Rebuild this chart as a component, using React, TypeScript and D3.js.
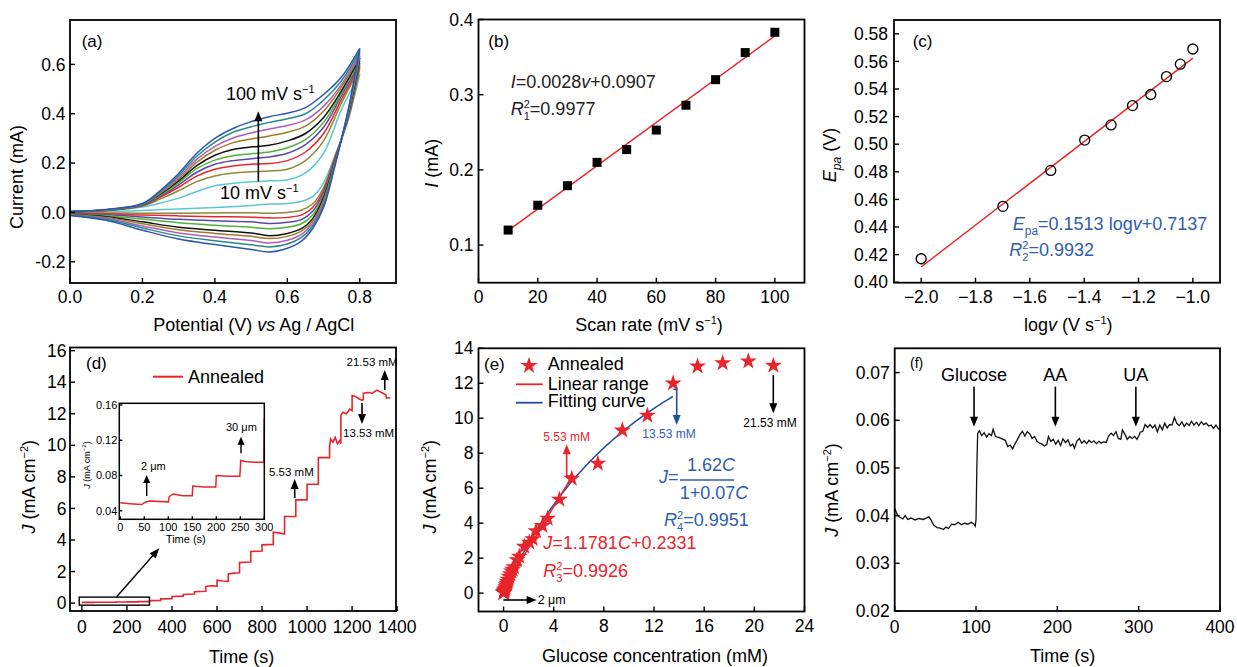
import React from "react";
import * as d3 from "d3";

const FONT = "'Liberation Sans', Arial, Helvetica, sans-serif";
const RED = "#e8252b";
const BLUE_TXT = "#2f5db0";
const BLUE_LINE = "#1f4ea3";
const FS = 17.5;
const TFS = 18;

// ---------- Panel (a): CV curves ----------
const cvRates = [10, 20, 30, 40, 50, 60, 70, 80, 90, 100];
const cvColors = ["#5cc6d6", "#8a8a3a", "#e8262a", "#5a4aa8", "#4fb13a", "#111111", "#a07a28", "#b25cb8", "#268a8a", "#2a56b0"];
const cvAnodicE = [0, 0.1, 0.2, 0.25, 0.3, 0.35, 0.4, 0.45, 0.5, 0.55, 0.6, 0.65, 0.7, 0.75, 0.8];
const cvAnodic = [
  [0.003, 0.007, 0.022, 0.038, 0.058, 0.085, 0.108, 0.118, 0.124, 0.128, 0.132, 0.16, 0.24, 0.42, 0.56],
  [0.003, 0.008, 0.026, 0.055, 0.088, 0.125, 0.148, 0.16, 0.165, 0.168, 0.175, 0.21, 0.29, 0.445, 0.585],
  [0.003, 0.008, 0.028, 0.062, 0.102, 0.147, 0.175, 0.188, 0.195, 0.198, 0.21, 0.245, 0.32, 0.46, 0.595],
  [0.003, 0.009, 0.029, 0.067, 0.112, 0.163, 0.195, 0.21, 0.218, 0.225, 0.24, 0.275, 0.345, 0.475, 0.605],
  [0.003, 0.009, 0.03, 0.071, 0.12, 0.178, 0.212, 0.23, 0.238, 0.245, 0.262, 0.295, 0.365, 0.485, 0.615],
  [0.003, 0.01, 0.031, 0.075, 0.128, 0.19, 0.232, 0.255, 0.265, 0.272, 0.29, 0.32, 0.385, 0.495, 0.625],
  [0.004, 0.01, 0.032, 0.078, 0.135, 0.203, 0.252, 0.283, 0.298, 0.31, 0.325, 0.35, 0.41, 0.51, 0.635],
  [0.004, 0.011, 0.033, 0.082, 0.142, 0.215, 0.268, 0.302, 0.322, 0.338, 0.352, 0.375, 0.43, 0.52, 0.645],
  [0.004, 0.011, 0.034, 0.085, 0.15, 0.228, 0.285, 0.325, 0.347, 0.365, 0.38, 0.4, 0.455, 0.535, 0.655],
  [0.004, 0.012, 0.036, 0.09, 0.158, 0.24, 0.3, 0.34, 0.368, 0.388, 0.402, 0.425, 0.478, 0.55, 0.665],
];
const cvCathodicE = [0.8, 0.77, 0.75, 0.73, 0.7, 0.67, 0.64, 0.6, 0.55, 0.5, 0.4, 0.3, 0.2, 0.1, 0];
const cvCathodic = [
  [0.56, 0.385, 0.3, 0.225, 0.12, 0.065, 0.045, 0.036, 0.034, 0.028, 0.02, 0.014, 0.008, 0.003, -0.003],
  [0.585, 0.39, 0.3, 0.22, 0.1, 0.035, 0.01, 0.0, -0.003, -0.001, -0.002, -0.003, -0.003, -0.002, -0.004],
  [0.595, 0.395, 0.3, 0.215, 0.09, 0.02, -0.01, -0.02, -0.022, -0.019, -0.017, -0.014, -0.01, -0.005, -0.005],
  [0.605, 0.4, 0.3, 0.21, 0.08, 0.005, -0.028, -0.04, -0.045, -0.038, -0.034, -0.028, -0.018, -0.009, -0.006],
  [0.615, 0.405, 0.3, 0.205, 0.07, -0.01, -0.045, -0.06, -0.066, -0.06, -0.052, -0.042, -0.027, -0.013, -0.007],
  [0.625, 0.41, 0.3, 0.2, 0.06, -0.025, -0.065, -0.085, -0.094, -0.083, -0.072, -0.06, -0.038, -0.017, -0.008],
  [0.635, 0.415, 0.3, 0.195, 0.05, -0.035, -0.075, -0.097, -0.106, -0.097, -0.085, -0.07, -0.046, -0.02, -0.009],
  [0.645, 0.42, 0.3, 0.19, 0.04, -0.045, -0.088, -0.113, -0.124, -0.114, -0.1, -0.083, -0.055, -0.024, -0.01],
  [0.655, 0.425, 0.3, 0.185, 0.03, -0.055, -0.1, -0.128, -0.14, -0.131, -0.115, -0.095, -0.063, -0.028, -0.011],
  [0.665, 0.43, 0.3, 0.18, 0.02, -0.065, -0.115, -0.145, -0.16, -0.15, -0.13, -0.108, -0.072, -0.032, -0.012],
];
const aXTicks = [0, 0.2, 0.4, 0.6, 0.8];
const aYTicks = [-0.2, 0, 0.2, 0.4, 0.6];

// ---------- Panel (b) ----------
const bScan = [10, 20, 30, 40, 50, 60, 70, 80, 90, 100];
const bCurrent = [0.12, 0.153, 0.179, 0.21, 0.227, 0.253, 0.286, 0.32, 0.356, 0.383];
const bXTicks = [0, 20, 40, 60, 80, 100];
const bYTicks = [0.1, 0.2, 0.3, 0.4];

// ---------- Panel (c) ----------
const cLogV = [-2.0, -1.699, -1.523, -1.398, -1.301, -1.222, -1.155, -1.097, -1.046, -1.0];
const cEpa = [0.417, 0.455, 0.481, 0.503, 0.514, 0.528, 0.536, 0.549, 0.558, 0.569];
const cSlope = 0.1513;
const cIntercept = 0.7137;
const cXTicks = [-2.0, -1.8, -1.6, -1.4, -1.2, -1.0];
const cYTicks = [0.4, 0.42, 0.44, 0.46, 0.48, 0.5, 0.52, 0.54, 0.56, 0.58];

// ---------- Panel (d) ----------
const dTime = [0, 50, 50, 100, 100, 150, 150, 200, 200, 250, 250, 300, 300, 350, 350, 400, 400, 450, 450, 500, 500, 550, 550, 575, 600, 600, 625, 650, 650, 675, 700, 700, 750, 750, 800, 800, 850, 850, 875, 900, 900, 950, 950, 1000, 1000, 1050, 1050, 1100, 1100, 1105, 1115, 1125, 1135, 1145, 1150, 1150, 1160, 1175, 1190, 1200, 1200, 1215, 1230, 1245, 1250, 1250, 1270, 1290, 1310, 1330, 1350, 1352, 1370];
const dJ = [0.049, 0.048, 0.051, 0.051, 0.058, 0.057, 0.067, 0.067, 0.079, 0.079, 0.095, 0.094, 0.16, 0.17, 0.27, 0.28, 0.42, 0.44, 0.55, 0.58, 0.72, 0.75, 1.05, 1.1, 1.08, 1.45, 1.4, 1.38, 1.85, 1.9, 1.92, 2.57, 2.6, 3.27, 3.3, 3.69, 3.72, 4.49, 4.45, 4.38, 5.49, 5.49, 6.54, 6.54, 7.53, 7.53, 9.22, 9.22, 10.0, 10.4, 10.2, 10.5, 10.1, 10.3, 10.1, 11.9, 12.1, 12.0, 12.3, 12.2, 13.15, 13.1, 12.95, 12.85, 12.9, 13.3, 13.35, 13.3, 13.5, 13.35, 13.2, 13.0, 13.0];
const dXTicks = [0, 200, 400, 600, 800, 1000, 1200, 1400];
const dYTicks = [0, 2, 4, 6, 8, 10, 12, 14, 16];
const insetTime = [0, 20, 45, 50, 60, 100, 102, 110, 130, 150, 151, 175, 199, 200, 225, 249, 251, 260, 280, 299, 300];
const insetJ = [0.049, 0.048, 0.047, 0.049, 0.051, 0.05, 0.056, 0.059, 0.057, 0.057, 0.068, 0.067, 0.067, 0.08, 0.079, 0.079, 0.097, 0.096, 0.095, 0.095, 0.145];
const insetXTicks = [0, 50, 100, 150, 200, 250, 300];
const insetYTicks = [0.04, 0.08, 0.12, 0.16];

// ---------- Panel (e) ----------
const eConc = [0.002, 0.004, 0.006, 0.008, 0.01, 0.04, 0.07, 0.1, 0.13, 0.16, 0.2, 0.25, 0.3, 0.35, 0.43, 0.53, 0.63, 0.73, 0.83, 1.07, 1.25, 1.65, 2.05, 2.32, 2.59, 3.1, 3.52, 4.45, 5.44, 7.52, 9.47, 11.47, 13.52, 15.47, 17.47, 19.52, 21.52];
const eJ = [0.02, 0.03, 0.04, 0.05, 0.06, 0.1, 0.15, 0.2, 0.27, 0.35, 0.45, 0.55, 0.65, 0.78, 0.95, 1.1, 1.25, 1.35, 1.5, 1.9, 2.1, 2.66, 2.9, 3.1, 3.55, 3.85, 4.27, 5.36, 6.55, 7.41, 9.31, 10.16, 12.0, 12.97, 13.16, 13.26, 13.01];
const eLinSlope = 1.1781;
const eLinIntercept = 0.2331;
const eLinRange = [0, 5.53];
const eFitA = 1.62;
const eFitB = 0.07;
const eFitRange = [0, 13.53];
const eXTicks = [0, 4, 8, 12, 16, 20, 24];
const eYTicks = [0, 2, 4, 6, 8, 10, 12, 14];

// ---------- Panel (f) ----------
const fTime = [0, 3, 5, 10, 13, 16, 20, 25, 30, 35, 40, 42, 45, 48, 52, 56, 60, 63, 66, 70, 74, 78, 82, 86, 90, 94, 97, 99, 100, 101, 102, 104, 107, 110, 113, 116, 119, 121, 124, 128, 132, 136, 139, 142, 145, 148, 151, 154, 157, 160, 163, 166, 169, 172, 175, 178, 181, 184, 187, 189, 192, 195, 198, 201, 204, 207, 210, 213, 216, 219, 221, 224, 227, 230, 233, 236, 239, 242, 245, 248, 251, 254, 257, 260, 263, 266, 269, 272, 275, 278, 280, 283, 286, 289, 292, 295, 298, 300, 302, 305, 308, 311, 314, 317, 320, 323, 326, 329, 332, 335, 338, 341, 344, 347, 350, 353, 356, 359, 362, 365, 368, 371, 374, 377, 380, 383, 386, 389, 392, 395, 398, 400];
const fJ = [0.0415, 0.0403, 0.0398, 0.0393, 0.04, 0.0392, 0.0395, 0.0391, 0.0394, 0.0392, 0.0396, 0.0398, 0.039, 0.038, 0.0375, 0.0374, 0.0371, 0.0376, 0.0373, 0.0382, 0.0381, 0.0386, 0.0381, 0.0384, 0.0382, 0.0386, 0.0383, 0.0378, 0.0392, 0.05, 0.0572, 0.0578, 0.0568, 0.0574, 0.0565, 0.0572, 0.0568, 0.0581, 0.0566, 0.0564, 0.0561, 0.0558, 0.0545, 0.0548, 0.054, 0.0551, 0.056, 0.057, 0.0577, 0.0567, 0.0576, 0.0572, 0.0562, 0.0566, 0.0556, 0.0552, 0.055, 0.0546, 0.0549, 0.0566, 0.0556, 0.056, 0.055, 0.0558, 0.0547, 0.0561, 0.0553, 0.0559, 0.0546, 0.055, 0.0541, 0.0556, 0.0562, 0.0552, 0.0557, 0.0551, 0.0558, 0.0553, 0.0557, 0.0551, 0.0556, 0.0552, 0.0555, 0.0553, 0.0567, 0.0573, 0.0568, 0.0576, 0.0562, 0.056, 0.058, 0.0571, 0.056, 0.0566, 0.0562, 0.0566, 0.056, 0.0567, 0.0575, 0.0577, 0.0591, 0.0585, 0.0591, 0.0584, 0.059, 0.0576, 0.059, 0.058, 0.0594, 0.0584, 0.0591, 0.059, 0.0606, 0.0593, 0.0589, 0.0597, 0.0587, 0.0594, 0.0589, 0.0598, 0.059, 0.0596, 0.0589, 0.0597, 0.0591, 0.0594, 0.0588, 0.059, 0.0583, 0.059, 0.0582, 0.0585];
const fXTicks = [0, 100, 200, 300, 400];
const fYTicks = [0.02, 0.03, 0.04, 0.05, 0.06, 0.07];
const fEvents = ["Glucose", "AA", "UA"];
const fEventTimes = [100, 200, 299];

type Fr = { l: number; t: number; r: number; b: number };

function Axes(props: {
  fr: Fr; x: any; y: any; xt: number[]; yt: number[];
  xf: (v: number) => string; yf: (v: number) => string;
  xLabelY: number; yLabelX: number; fs?: number; tl?: number; sw?: number;
}) {
  const { fr, x, y, xt, yt, xf, yf, xLabelY, yLabelX } = props;
  const fs = props.fs ?? FS;
  const tl = props.tl ?? 5;
  const sw = props.sw ?? 1.8;
  return (
    <g>
      {xt.map((v) => (
        <g key={"x" + v}>
          <line x1={x(v)} x2={x(v)} y1={fr.b} y2={fr.b - tl} stroke="#000" strokeWidth={1.4} />
          <text x={x(v)} y={xLabelY} dy="0.35em" textAnchor="middle" fontSize={fs}>{xf(v)}</text>
        </g>
      ))}
      {yt.map((v) => (
        <g key={"y" + v}>
          <line x1={fr.l} x2={fr.l + tl} y1={y(v)} y2={y(v)} stroke="#000" strokeWidth={1.4} />
          <text x={yLabelX} y={y(v)} dy="0.35em" textAnchor="end" fontSize={fs}>{yf(v)}</text>
        </g>
      ))}
      <rect x={fr.l} y={fr.t} width={fr.r - fr.l} height={fr.b - fr.t} fill="none" stroke="#000" strokeWidth={sw} />
    </g>
  );
}

function Arrow(p: { x1: number; y1: number; x2: number; y2: number; color?: string; hl?: number; hw?: number; sw?: number }) {
  const color = p.color ?? "#000";
  const hl = p.hl ?? 10;
  const hw = p.hw ?? 4;
  const dx = p.x2 - p.x1, dy = p.y2 - p.y1;
  const len = Math.sqrt(dx * dx + dy * dy);
  const ux = dx / len, uy = dy / len;
  const bx = p.x2 - ux * hl, by = p.y2 - uy * hl;
  const px = -uy, py = ux;
  const pts = `${p.x2},${p.y2} ${bx + px * hw},${by + py * hw} ${bx - px * hw},${by - py * hw}`;
  return (
    <g>
      <line x1={p.x1} y1={p.y1} x2={bx + ux * 1} y2={by + uy * 1} stroke={color} strokeWidth={p.sw ?? 1.6} />
      <polygon points={pts} fill={color} />
    </g>
  );
}

const minus = (s: string) => s.replace("-", "\u2212");

export default function App() {
  // ----- Panel A -----
  const frA: Fr = { l: 70, t: 20, r: 396, b: 283 };
  const xA = d3.scaleLinear().domain([0, 0.9]).range([frA.l, frA.r]);
  const yA = d3.scaleLinear().domain([-0.286, 0.78]).range([frA.b, frA.t]);
  const cvLine = d3.line<[number, number]>().x((d) => xA(d[0])).y((d) => yA(d[1])).curve(d3.curveCatmullRom.alpha(0.5));

  // ----- Panel B -----
  const frB: Fr = { l: 478.5, t: 19.5, r: 804.5, b: 282.7 };
  const xB = d3.scaleLinear().domain([0, 110]).range([frB.l, frB.r]);
  const yB = d3.scaleLinear().domain([0.05, 0.4]).range([frB.b, frB.t]);
  const mx = d3.mean(bScan) as number;
  const my = d3.mean(bCurrent) as number;
  const sxy = d3.sum(bScan.map((v, i) => (v - mx) * (bCurrent[i] - my)));
  const sxx = d3.sum(bScan.map((v) => (v - mx) * (v - mx)));
  const bSlope = sxy / sxx;
  const bInt = my - bSlope * mx;

  // ----- Panel C -----
  const frC: Fr = { l: 894, t: 20, r: 1220, b: 282.7 };
  const xC = d3.scaleLinear().domain([-2.1, -0.9]).range([frC.l, frC.r]);
  const yC = d3.scaleLinear().domain([0.4, 0.59]).range([282.2, frC.t]);

  // ----- Panel D -----
  const frD: Fr = { l: 70, t: 347.5, r: 396, b: 611 };
  const xD = d3.scaleLinear().domain([-53, 1395]).range([frD.l, frD.r]);
  const yD = d3.scaleLinear().domain([-0.5, 16.2]).range([frD.b, frD.t]);
  const dLine = d3.line<number>().x((_, i) => xD(dTime[i])).y((v) => yD(v));
  const frI: Fr = { l: 119.3, t: 403.3, r: 264.3, b: 519.3 };
  const xI = d3.scaleLinear().domain([-2, 300]).range([frI.l, frI.r]);
  const yI = d3.scaleLinear().domain([0.0302, 0.162]).range([frI.b, frI.t]);
  const iLine = d3.line<number>().x((_, i) => xI(insetTime[i])).y((v) => yI(v));

  // ----- Panel E -----
  const frE: Fr = { l: 478.5, t: 348.3, r: 804.5, b: 611.5 };
  const xE = d3.scaleLinear().domain([-2, 24]).range([frE.l, frE.r]);
  const yE = d3.scaleLinear().domain([-1.05, 14]).range([frE.b, frE.t]);
  const star = d3.symbol().type(d3.symbolStar).size(90)() as string;
  const fitPts = d3.range(eFitRange[0], eFitRange[1] + 0.001, 0.1).map((c) => [c, (eFitA * c) / (1 + eFitB * c)] as [number, number]);
  const fitLine = d3.line<[number, number]>().x((d) => xE(d[0])).y((d) => yE(d[1]));

  // ----- Panel F -----
  const frF: Fr = { l: 894.7, t: 348.3, r: 1220, b: 611 };
  const xF = d3.scaleLinear().domain([0, 400]).range([frF.l, frF.r]);
  const yF = d3.scaleLinear().domain([0.02, 0.0751]).range([frF.b, frF.t]);
  const fLine = d3.line<number>().x((_, i) => xF(fTime[i])).y((v) => yF(v));

  return (
    <svg width={1237} height={667} style={{ position: "absolute", left: 0, top: 0, background: "#fff" }} fontFamily={FONT}>
      <rect width={1237} height={667} fill="#fff" />

      {/* ================= Panel A ================= */}
      <g>
        {cvRates.map((r, k) => (
          <g key={r}>
            <path d={cvLine(cvAnodicE.map((e, i) => [e, cvAnodic[k][i]] as [number, number])) as string} fill="none" stroke={cvColors[k]} strokeWidth={1.5} />
            <path d={cvLine(cvCathodicE.map((e, i) => [e, cvCathodic[k][i]] as [number, number])) as string} fill="none" stroke={cvColors[k]} strokeWidth={1.5} />
          </g>
        ))}
        <Axes fr={frA} x={xA} y={yA} xt={aXTicks} yt={aYTicks} xf={(v) => d3.format(".1f")(v)} yf={(v) => d3.format(".1f")(v).replace("\u2212", "-")} xLabelY={296.7} yLabelX={frA.l - 4.5} />
        <text x={81.7} y={40.7} dy="0.35em" fontSize={17}>(a)</text>
        <Arrow x1={xA(0.52)} y1={yA(0.125)} x2={xA(0.52)} y2={yA(0.41)} />
        <text x={226} y={93.3} dy="0.35em" fontSize={TFS}>100 mV s<tspan dy={-7} fontSize={11}>−1</tspan></text>
        <text x={220} y={192.7} dy="0.35em" fontSize={TFS}>10 mV s<tspan dy={-7} fontSize={11}>−1</tspan></text>
        <text x={253.7} y={325} dy="0.35em" textAnchor="middle" fontSize={TFS}>Potential (V) <tspan fontStyle="italic">vs</tspan> Ag / AgCl</text>
        <text transform="translate(16.7,177) rotate(-90)" dy="0.35em" textAnchor="middle" fontSize={TFS}>Current (mA)</text>
      </g>

      {/* ================= Panel B ================= */}
      <g>
        <line x1={xB(10)} y1={yB(bSlope * 10 + bInt)} x2={xB(100)} y2={yB(bSlope * 100 + bInt)} stroke={RED} strokeWidth={1.4} />
        {bScan.map((v, i) => (
          <rect key={v} x={xB(v) - 4.5} y={yB(bCurrent[i]) - 4.5} width={9} height={9} fill="#000" />
        ))}
        <Axes fr={frB} x={xB} y={yB} xt={bXTicks} yt={bYTicks} xf={(v) => String(v)} yf={(v) => d3.format(".1f")(v)} xLabelY={296.7} yLabelX={frB.l - 5} />
        <text x={488.3} y={40.7} dy="0.35em" fontSize={17}>(b)</text>
        <text x={510.7} y={81.7} dy="0.35em" fontSize={TFS} fill="#222"><tspan fontStyle="italic">I</tspan>=0.0028<tspan fontStyle="italic">v</tspan>+0.0907</text>
        <text x={510.7} y={108.3} dy="0.35em" fontSize={TFS} fill="#222">
          <tspan fontStyle="italic">R</tspan>
          <tspan fontSize={11} dy={-7}>2</tspan>
          <tspan fontSize={11} dx={-6.1} dy={12}>1</tspan>
          <tspan dy={-5}>=0.9977</tspan>
        </text>
        <text x={649} y={325} dy="0.35em" textAnchor="middle" fontSize={TFS}>Scan rate (mV s<tspan dy={-7} fontSize={11}>−1</tspan><tspan dy={7}>)</tspan></text>
        <text transform="translate(431.7,163.3) rotate(-90)" dy="0.35em" textAnchor="middle" fontSize={TFS}><tspan fontStyle="italic">I</tspan> (mA)</text>
      </g>

      {/* ================= Panel C ================= */}
      <g>
        <line x1={xC(-2.0)} y1={yC(cSlope * -2.0 + cIntercept)} x2={xC(-1.0)} y2={yC(cSlope * -1.0 + cIntercept)} stroke={RED} strokeWidth={1.4} />
        {cLogV.map((v, i) => (
          <circle key={i} cx={xC(v)} cy={yC(cEpa[i])} r={5} fill="none" stroke="#000" strokeWidth={1.3} />
        ))}
        <Axes fr={frC} x={xC} y={yC} xt={cXTicks} yt={cYTicks} xf={(v) => minus(d3.format(".1f")(v).replace("\u2212", "-"))} yf={(v) => d3.format(".2f")(v)} xLabelY={296.7} yLabelX={frC.l - 6} />
        <text x={912.7} y={40.7} dy="0.35em" fontSize={17}>(c)</text>
        <text x={1012.7} y={224} dy="0.35em" fontSize={TFS} fill={BLUE_TXT}>
          <tspan fontStyle="italic">E</tspan><tspan fontSize={12} dy={5}>pa</tspan><tspan dy={-5}>=0.1513 log</tspan><tspan fontStyle="italic">v</tspan>+0.7137
        </text>
        <text x={1009.3} y={249.3} dy="0.35em" fontSize={TFS} fill={BLUE_TXT}>
          <tspan fontStyle="italic">R</tspan>
          <tspan fontSize={11} dy={-7}>2</tspan>
          <tspan fontSize={11} dx={-6.1} dy={12}>2</tspan>
          <tspan dy={-5}>=0.9932</tspan>
        </text>
        <text x={1068.3} y={325} dy="0.35em" textAnchor="middle" fontSize={TFS}>log<tspan fontStyle="italic">v</tspan> (V s<tspan dy={-7} fontSize={11}>−1</tspan><tspan dy={7}>)</tspan></text>
        <text transform="translate(830,155) rotate(-90)" dy="0.35em" textAnchor="middle" fontSize={TFS}>
          <tspan fontStyle="italic">E</tspan><tspan fontStyle="italic" fontSize={12} dy={5}>pa</tspan><tspan dy={-5}> (V)</tspan>
        </text>
      </g>

      {/* ================= Panel D ================= */}
      <g>
        <path d={dLine(dJ) as string} fill="none" stroke={RED} strokeWidth={1.6} />
        <Axes fr={frD} x={xD} y={yD} xt={dXTicks} yt={dYTicks} xf={(v) => String(v)} yf={(v) => String(v)} xLabelY={626.7} yLabelX={frD.l - 3.5} />
        <rect x={xD(-12)} y={yD(0.38)} width={xD(300) - xD(-12)} height={yD(-0.13) - yD(0.38)} fill="none" stroke="#000" strokeWidth={1.4} />
        <Arrow x1={116.7} y1={596.7} x2={159.3} y2={548.3} sw={1.4} />
        <text x={86} y={363.3} dy="0.35em" fontSize={17}>(d)</text>
        <line x1={153} x2={183} y1={376.7} y2={376.7} stroke={RED} strokeWidth={2} />
        <text x={188} y={376.7} dy="0.35em" fontSize={TFS}>Annealed</text>
        <Arrow x1={xD(1345)} y1={390} x2={xD(1345)} y2={370} />
        <text x={346.5} y={361.7} dy="0.35em" fontSize={11.5}>21.53 mM</text>
        <Arrow x1={362} y1={403} x2={362} y2={424} />
        <text x={343} y={433} dy="0.35em" fontSize={11.5}>13.53 mM</text>
        <Arrow x1={294.7} y1={498} x2={294.7} y2={479} />
        <text x={269} y={472} dy="0.35em" fontSize={11.5}>5.53 mM</text>
        {/* inset */}
        <rect x={frI.l} y={frI.t} width={frI.r - frI.l} height={frI.b - frI.t} fill="#fff" />
        <path d={iLine(insetJ) as string} fill="none" stroke={RED} strokeWidth={1.5} />
        <Axes fr={frI} x={xI} y={yI} xt={insetXTicks} yt={insetYTicks} xf={(v) => String(v)} yf={(v) => d3.format(".2f")(v)} xLabelY={526.7} yLabelX={frI.l - 2} fs={11} tl={3} sw={1.5} />
        <text x={185.8} y={539.3} dy="0.35em" textAnchor="middle" fontSize={11}>Time (s)</text>
        <text transform="translate(86.7,465) rotate(-90)" dy="0.35em" textAnchor="middle" fontSize={9}>
          <tspan fontStyle="italic">J</tspan> (mA cm<tspan dy={-4} fontSize={6}>−2</tspan><tspan dy={4}>)</tspan>
        </text>
        <Arrow x1={146.7} y1={496} x2={146.7} y2={475} hl={8} hw={3.5} sw={1.4} />
        <text x={141} y={466} dy="0.35em" fontSize={11}>2 μm</text>
        <Arrow x1={241} y1={453.3} x2={241} y2={436.7} hl={8} hw={3.5} sw={1.4} />
        <text x={226} y={427.3} dy="0.35em" fontSize={11}>30 μm</text>
        <text x={241.7} y={656.7} dy="0.35em" textAnchor="middle" fontSize={TFS}>Time (s)</text>
        <text transform="translate(28.3,486.7) rotate(-90)" dy="0.35em" textAnchor="middle" fontSize={TFS}>
          <tspan fontStyle="italic">J</tspan> (mA cm<tspan dy={-7} fontSize={11}>−2</tspan><tspan dy={7}>)</tspan>
        </text>
      </g>

      {/* ================= Panel E ================= */}
      <g>
        <path d={fitLine(fitPts) as string} fill="none" stroke={BLUE_LINE} strokeWidth={1.5} />
        <line x1={xE(eLinRange[0])} y1={yE(eLinSlope * eLinRange[0] + eLinIntercept)} x2={xE(eLinRange[1])} y2={yE(eLinSlope * eLinRange[1] + eLinIntercept)} stroke={RED} strokeWidth={1.5} />
        {eConc.map((c, i) => (
          <path key={i} d={star} transform={`translate(${xE(c)},${yE(eJ[i])})`} fill={RED} />
        ))}
        <Axes fr={frE} x={xE} y={yE} xt={eXTicks} yt={eYTicks} xf={(v) => String(v)} yf={(v) => String(v)} xLabelY={626} yLabelX={frE.l - 5} />
        <text x={484} y={364} dy="0.35em" fontSize={17}>(e)</text>
        <path d={star} transform="translate(529,365.7)" fill={RED} />
        <text x={547.7} y={363.3} dy="0.35em" fontSize={TFS}>Annealed</text>
        <line x1={516} x2={542.7} y1={384.3} y2={384.3} stroke={RED} strokeWidth={1.8} />
        <text x={547.7} y={383.3} dy="0.35em" fontSize={TFS}>Linear range</text>
        <line x1={516} x2={542.7} y1={402.7} y2={402.7} stroke={BLUE_LINE} strokeWidth={1.8} />
        <text x={547.7} y={401} dy="0.35em" fontSize={TFS}>Fitting curve</text>
        {/* 5.53 mM */}
        <line x1={572} x2={566.7} y1={476} y2={476} stroke={RED} strokeWidth={1.6} />
        <Arrow x1={566.7} y1={476} x2={566.7} y2={444.3} color={RED} />
        <text x={543.3} y={436.7} dy="0.35em" fontSize={12} fill={RED}>5.53 mM</text>
        {/* 13.53 mM */}
        <line x1={673.3} x2={676.7} y1={389.3} y2={389.3} stroke={BLUE_LINE} strokeWidth={1.6} />
        <Arrow x1={676.7} y1={389.3} x2={676.7} y2={425} color={BLUE_LINE} />
        <text x={642.3} y={433.7} dy="0.35em" fontSize={12} fill={BLUE_TXT}>13.53 mM</text>
        {/* 21.53 mM */}
        <Arrow x1={773.3} y1={375} x2={773.3} y2={413.3} />
        <text x={743.3} y={422.7} dy="0.35em" fontSize={12}>21.53 mM</text>
        {/* 2 um */}
        <Arrow x1={503.3} y1={600} x2={536.7} y2={600} />
        <text x={537.7} y={600} dy="0.35em" fontSize={12.5}>2 μm</text>
        {/* blue equation */}
        <text x={659} y={476.7} dy="0.35em" fontSize={TFS} fill={BLUE_TXT}><tspan fontStyle="italic">J</tspan>=</text>
        <text x={711} y={465} dy="0.35em" textAnchor="middle" fontSize={TFS} fill={BLUE_TXT}>1.62<tspan fontStyle="italic">C</tspan></text>
        <line x1={680} x2={734} y1={480} y2={480} stroke={BLUE_TXT} strokeWidth={1.4} />
        <text x={714} y={492.7} dy="0.35em" textAnchor="middle" fontSize={TFS} fill={BLUE_TXT}>1+0.07<tspan fontStyle="italic">C</tspan></text>
        <text x={664} y={519.3} dy="0.35em" fontSize={TFS} fill={BLUE_TXT}>
          <tspan fontStyle="italic">R</tspan>
          <tspan fontSize={11} dy={-7}>2</tspan>
          <tspan fontSize={11} dx={-6.1} dy={12}>4</tspan>
          <tspan dy={-5}>=0.9951</tspan>
        </text>
        {/* red equation */}
        <text x={543.3} y={542.7} dy="0.35em" fontSize={TFS} fill={RED}><tspan fontStyle="italic">J</tspan>=1.1781<tspan fontStyle="italic">C</tspan>+0.2331</text>
        <text x={543.3} y={570.7} dy="0.35em" fontSize={TFS} fill={RED}>
          <tspan fontStyle="italic">R</tspan>
          <tspan fontSize={11} dy={-7}>2</tspan>
          <tspan fontSize={11} dx={-6.1} dy={12}>3</tspan>
          <tspan dy={-5}>=0.9926</tspan>
        </text>
        <text x={655} y={655.7} dy="0.35em" textAnchor="middle" fontSize={TFS}>Glucose concentration (mM)</text>
        <text transform="translate(430,486.7) rotate(-90)" dy="0.35em" textAnchor="middle" fontSize={TFS}>
          <tspan fontStyle="italic">J</tspan> (mA cm<tspan dy={-7} fontSize={11}>−2</tspan><tspan dy={7}>)</tspan>
        </text>
      </g>

      {/* ================= Panel F ================= */}
      <g>
        <path d={fLine(fJ) as string} fill="none" stroke="#111" strokeWidth={1.3} />
        <Axes fr={frF} x={xF} y={yF} xt={fXTicks} yt={fYTicks} xf={(v) => String(v)} yf={(v) => d3.format(".2f")(v)} xLabelY={626.7} yLabelX={frF.l - 5} />
        <text x={910} y={363.3} dy="0.35em" fontSize={14}>(f)</text>
        {fEvents.map((ev, i) => (
          <g key={ev}>
            <text x={xF(fEventTimes[i]) - 2} y={374.3} dy="0.35em" textAnchor="middle" fontSize={TFS}>{ev}</text>
            <Arrow x1={xF(fEventTimes[i]) - 2} y1={386.7} x2={xF(fEventTimes[i]) - 2} y2={426.7} />
          </g>
        ))}
        <text x={1062.7} y={656} dy="0.35em" textAnchor="middle" fontSize={TFS}>Time (s)</text>
        <text transform="translate(831.7,490) rotate(-90)" dy="0.35em" textAnchor="middle" fontSize={TFS}>
          <tspan fontStyle="italic">J</tspan> (mA cm<tspan dy={-7} fontSize={11}>−2</tspan><tspan dy={7}>)</tspan>
        </text>
      </g>
    </svg>
  );
}
